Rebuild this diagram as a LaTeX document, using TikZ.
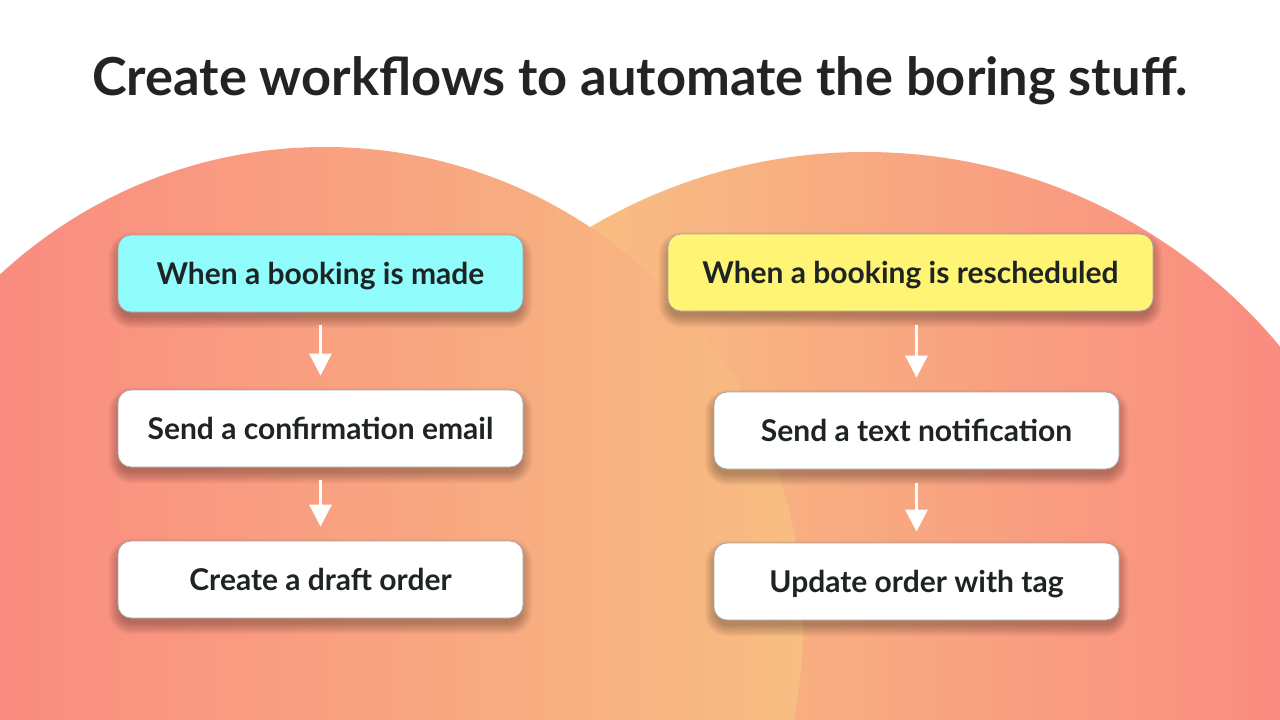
\documentclass[tikz,border=0pt]{standalone}
\usepackage{fontspec}
\setmainfont{Lato}
\usetikzlibrary{arrows.meta}
\definecolor{coral}{HTML}{F98C80}
\definecolor{peach}{HTML}{F8BE82}
\definecolor{titlecol}{HTML}{232323}
\definecolor{boxtext}{HTML}{1E2424}
\definecolor{cyanbox}{HTML}{90FCFC}
\definecolor{yellowbox}{HTML}{FFF473}
\definecolor{boxedge}{HTML}{A8A8A8}
\pgfdeclarelayer{back}
\pgfdeclarelayer{shadowlayer}
\pgfsetlayers{back,shadowlayer,main}
\tikzset{
  flowbox/.style={draw=boxedge, line width=0.8pt, rounded corners=13pt, fill=white,
    minimum height=77pt, minimum width=405pt, inner sep=0pt,
    text height=21.5pt, text depth=0pt, text=boxtext,
    font=\fontsize{30}{33}\selectfont\bfseries},
  softshade/.style={fill=black, opacity=0.022},
  flowarrow/.style={draw=white, line width=3pt, -{Triangle[width=22pt,length=22pt]},
    shorten <=13pt, shorten >=14pt}
}
\begin{document}
\begin{tikzpicture}[x=1pt,y=-1pt]
\begin{pgfonlayer}{back}
\useasboundingbox[fill=white] (0,0) rectangle (1280,720);
% right blob
\begin{scope}
  \clip (865,692) circle[radius=540pt];
  \shade[left color=peach, right color=coral] (580,150) rectangle (1280,720);
\end{scope}
% left blob (on top)
\begin{scope}
  \clip (325,625) circle[radius=478pt];
  \shade[left color=coral, right color=peach] (0,140) rectangle (805,720);
\end{scope}
\end{pgfonlayer}

\node[anchor=base, text=titlecol, font=\fontsize{52.4}{60}\selectfont\bfseries] (title) at (640,95)
  {Create workflows to automate the boring stuff.};

\node[flowbox, fill=cyanbox] (l1) at (320.5,273.5) {When a booking is made};
\node[flowbox] (l2) at (320.5,428.5) {Send a confirmation email};
\node[flowbox] (l3) at (320.5,579.5) {Create a draft order};

\node[flowbox, fill=yellowbox, minimum width=485pt] (r1) at (910.5,272.5) {When a booking is rescheduled};
\node[flowbox] (r2) at (916.5,430.5) {Send a text notification};
\node[flowbox] (r3) at (916.5,581.5) {Update order with tag};

\begin{pgfonlayer}{shadowlayer}
\foreach \n in {l1,l2,l3,r1,r2,r3}{
  \foreach \i in {1,...,12}{
    \pgfmathsetmacro{\rr}{11+\i}
    \fill[softshade, rounded corners=\rr pt]
      ([xshift=-\i pt+3pt, yshift=-\i pt-4pt]\n.south west) rectangle ([xshift=\i pt-3pt, yshift=\i pt-10pt]\n.north east);
  }
}
\end{pgfonlayer}

\draw[flowarrow] (l1) -- (l2);
\draw[flowarrow] (l2) -- (l3);
\draw[flowarrow] (l1.south -| r2.north) -- (r2.north);
\draw[flowarrow, shorten <=14pt, shorten >=11pt] (r2) -- (r3);
\end{tikzpicture}
\end{document}
